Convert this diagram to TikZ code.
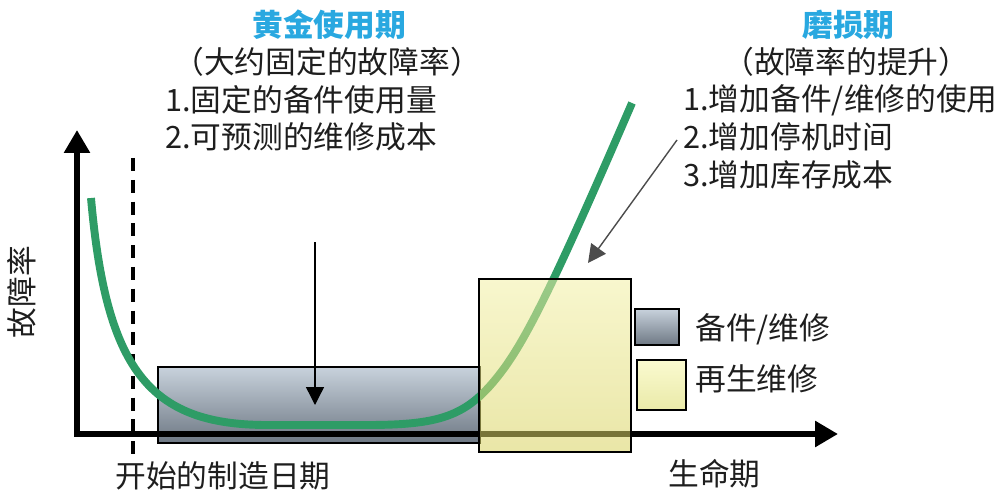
\documentclass[tikz,border=0pt]{standalone}
\usepackage{fontspec}
\setmainfont{Noto Sans CJK SC}
\usetikzlibrary{arrows.meta}
\definecolor{titleblue}{RGB}{41,168,224}
\definecolor{curvegreen}{RGB}{46,156,102}
\definecolor{sparetop}{RGB}{200,210,220}
\definecolor{sparebot}{RGB}{110,120,132}
\definecolor{glasstop}{RGB}{242,240,165}
\definecolor{glassbot}{RGB}{216,210,95}
\definecolor{refurbtop}{RGB}{250,250,208}
\definecolor{refurbbot}{RGB}{234,234,168}
\definecolor{textblack}{RGB}{30,30,30}
\tikzset{
  lbl/.style={font=\fontsize{17.5}{20}\selectfont, text=textblack, inner sep=0pt},
  ttl/.style={font=\fontsize{17.5}{20}\selectfont\bfseries, text=titleblue, inner sep=0pt},
  axis/.style={line width=0.12cm, line join=miter,
    {Triangle[length=0.46cm,width=0.5cm]}-{Triangle[length=0.46cm,width=0.5cm]}},
  mfgline/.style={line width=2.6pt, dash pattern=on 7.4pt off 5pt},
  bathtub/.style={draw=curvegreen, line width=4.5pt, line cap=butt},
  pointer/.style={line width=0.8pt, -{Triangle[length=0.36cm,width=0.36cm]}},
  sparebox/.style={top color=sparetop, bottom color=sparebot, draw=black},
  refurbbox/.style={top color=refurbtop, bottom color=refurbbot, draw=black}
}
\begin{document}
\begin{tikzpicture}[x=0.02cm, y=-0.02cm]
  \useasboundingbox (0,0) rectangle (1008,500);
  % spare parts band
  \shadedraw[sparebox, line width=0.8pt] (158,367) rectangle (480,443);
  % axes
  \coordinate (ytip) at (77,130);
  \coordinate (origin) at (77,434);
  \coordinate (xtip) at (838,434);
  \draw[axis] (ytip) -- (origin) -- (xtip);
  % start of manufacturing
  \coordinate (mfgtop) at (133,158);
  \coordinate (mfgbot) at (133,455);
  \draw[mfgline] (mfgtop) -- (mfgbot);
  % failure rate curve
  \draw[bathtub] (91,198) .. controls (106,368) and (148,425) .. (267,425)
    -- (367,425) .. controls (445,425) and (470,415) .. (505,367)
    .. controls (530,332) and (560,270) .. (632,103);
  % refurbish band
  \shade[top color=glasstop, bottom color=glassbot, fill opacity=0.55] (479,279) rectangle (631,452);
  \draw[line width=0.8pt] (479,279) rectangle (631,452);
  % pointers
  \coordinate (goldfrom) at (315,242);
  \coordinate (goldto) at (315,405);
  \draw[pointer] (goldfrom) -- (goldto);
  \coordinate (wearfrom) at (677,140);
  \coordinate (wearto) at (588,263);
  \draw[pointer, draw=black!70] (wearfrom) -- (wearto);
  % legend
  \shadedraw[sparebox, line width=1.2pt] (635,309) rectangle (679,345);
  \shadedraw[refurbbox, line width=1.2pt] (637,360) rectangle (686,410);
  \node[lbl, anchor=west] (legspare) at (695,329) {备件/维修};
  \node[lbl, anchor=west] (legrefurb) at (695,379) {再生维修};
  % golden period
  \node[ttl, anchor=west] (gold) at (252,25) {黄金使用期};
  \node[lbl, anchor=west] (goldsub) at (173,62) {（大约固定的故障率）};
  \node[lbl, anchor=west] (gold1) at (165,100) {1.固定的备件使用量};
  \node[lbl, anchor=west] (gold2) at (165,137) {2.可预测的维修成本};
  % wear out period
  \node[ttl, anchor=west] (wear) at (802,25) {磨损期};
  \node[lbl, anchor=west] (wearsub) at (723,62) {（故障率的提升）};
  \node[lbl, anchor=west] (wear1) at (683,100) {1.增加备件/维修的使用};
  \node[lbl, anchor=west] (wear2) at (683,137) {2.增加停机时间};
  \node[lbl, anchor=west] (wear3) at (683,175) {3.增加库存成本};
  % axis labels
  \node[lbl, rotate=90] (ylab) at (22,292) {故障率};
  \node[lbl, anchor=west] (mfglab) at (115,476) {开始的制造日期};
  \node[lbl, anchor=west] (lifelab) at (668,474) {生命期};
\end{tikzpicture}
\end{document}
